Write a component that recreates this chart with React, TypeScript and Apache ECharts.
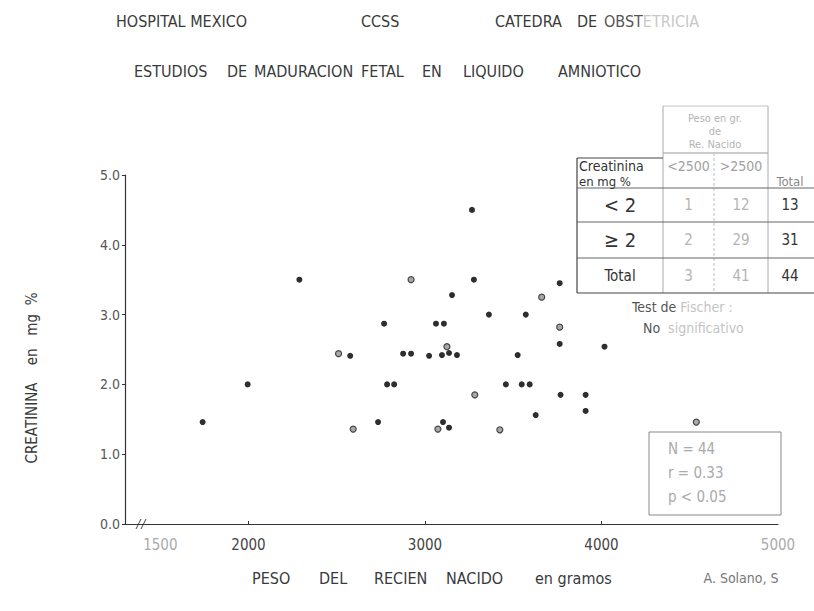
import React, { useEffect, useRef } from 'react';
import * as echarts from 'echarts';

// ---- data ----
const xTickValues = [2000, 3000, 4000];
const xLabelValues = [1500, 2000, 3000, 4000, 5000];
const fadedXLabels = [1500, 5000];
const yTickValues = [0, 1, 2, 3, 4, 5];

// [peso del recien nacido (g), creatinina (mg %)]
const solidPoints = [
  [1740, 1.46], [1995, 2.0], [2288, 3.5], [2576, 2.41], [2734, 1.46],
  [2768, 2.87], [2785, 2.0], [2825, 2.0], [2876, 2.44], [2921, 2.44],
  [3023, 2.41], [3096, 2.42], [3136, 2.45], [3181, 2.42], [3062, 2.87],
  [3107, 2.87], [3153, 3.28], [3266, 4.5], [3277, 3.5], [3362, 3.0],
  [3571, 3.0], [3763, 3.45], [3763, 2.58], [3525, 2.42], [4017, 2.54],
  [3458, 2.0], [3548, 2.0], [3593, 2.0], [3768, 1.85], [3910, 1.85],
  [3910, 1.62], [3627, 1.56], [3102, 1.46], [3136, 1.38],
];
const openPoints = [
  [2510, 2.44], [2593, 1.36], [2921, 3.5], [3124, 2.54], [3661, 3.25],
  [3763, 2.82], [3282, 1.85], [3073, 1.36], [3424, 1.35], [4537, 1.46],
];

const titleLine1 = ['HOSPITAL MEXICO', 'CCSS', 'CATEDRA', 'DE'];
const titleLine2 = ['ESTUDIOS', 'DE', 'MADURACION', 'FETAL', 'EN', 'LIQUIDO', 'AMNIOTICO'];
const xTitleWords = ['PESO', 'DEL', 'RECIEN', 'NACIDO', 'en gramos'];

const tableHeaderTop = ['Peso en gr.', 'de', 'Re. Nacido'];
const tableColumns = ['<2500', '>2500', 'Total'];
const tableRowLabels = ['< 2', '≥ 2', 'Total'];
const tableValues = [
  [1, 12, 13],
  [2, 29, 31],
  [3, 41, 44],
];
const statsLines = ['N = 44', 'r = 0.33', 'p < 0.05'];

const FONT = '"DejaVu Sans Condensed", "Liberation Sans Narrow", "DejaVu Sans", sans-serif';
const DARK = '#333';
const FAINT = '#b4b4b4';

function txt(text: string, x: number, y: number, opts: any = {}) {
  return {
    type: 'text',
    x,
    y,
    silent: true,
    rotation: opts.rotation || 0,
    style: {
      text,
      fill: opts.fill || DARK,
      fontSize: opts.size || 12,
      fontFamily: FONT,
      textAlign: opts.align || 'left',
      textVerticalAlign: 'middle',
      rich: opts.rich,
    },
  };
}

function ln(x1: number, y1: number, x2: number, y2: number, stroke = '#555', width = 1, dash?: number[]) {
  return {
    type: 'line',
    silent: true,
    shape: { x1, y1, x2, y2 },
    style: { stroke, lineWidth: width, lineDash: dash },
  };
}

export default function App() {
  const ref = useRef<HTMLDivElement>(null);

  useEffect(() => {
    document.body.style.margin = '0';
    const chart = echarts.init(ref.current!, null, { renderer: 'svg' });

    const line1X = [116, 361, 495, 577];
    const line2X = [134, 227, 254, 361, 422, 463, 558];
    const xTitleX = [252, 319, 374, 446, 535];

    const graphics: any[] = [];
    titleLine1.forEach((w, i) => graphics.push(txt(w, line1X[i], 21, { size: 16, fill: '#3a3a3a' })));
    graphics.push(txt('{a|OBST}{b|ETRICIA}', 604, 21, {
      size: 16,
      rich: {
        a: { fill: '#555', fontSize: 16, fontFamily: FONT },
        b: { fill: '#c8c8c8', fontSize: 16, fontFamily: FONT },
      },
    }));
    titleLine2.forEach((w, i) => graphics.push(txt(w, line2X[i], 71, { size: 16, fill: '#3a3a3a' })));
    xTitleWords.forEach((w, i) => graphics.push(txt(w, xTitleX[i], 578, { size: 16, fill: '#3a3a3a' })));
    graphics.push(txt('A. Solano, S', 741, 578, { size: 14, fill: '#777', align: 'center' }));
    graphics.push(txt('CREATININA    en   mg  %', 32, 378, { size: 15, rotation: Math.PI / 2, align: 'center', fill: '#3a3a3a' }));

    // axis break marks
    graphics.push(ln(136, 529, 141, 519, '#444', 1));
    graphics.push(ln(141, 529, 146, 519, '#444', 1));

    // ---- table ----
    const colX = [577, 663, 714, 768, 814];
    const rowY = [158, 188, 222, 258, 293];
    graphics.push(ln(663, 106, 768, 106, '#c4c4c4', 1));
    graphics.push(ln(663, 153, 768, 153, '#999', 1));
    graphics.push(ln(663, 106, 663, 293, '#aaa', 1));
    graphics.push(ln(768, 106, 768, 293, '#aaa', 1));
    graphics.push(ln(714, 153, 714, 293, '#bbb', 1, [3, 2]));
    graphics.push(ln(577, 158, 663, 158, '#444', 1));
    graphics.push(ln(577, 158, 577, 293, '#444', 1.2));
    for (let r = 1; r < rowY.length; r++) {
      graphics.push(ln(577, rowY[r], 814, rowY[r], r === rowY.length - 1 ? '#444' : '#666', 1.2));
    }
    tableHeaderTop.forEach((t, i) => graphics.push(txt(t, 715, 118 + i * 13, { size: 11, fill: FAINT, align: 'center' })));
    graphics.push(txt('Creatinina', 579, 166, { size: 14 }));
    graphics.push(txt('en mg %', 579, 181, { size: 13 }));
    tableColumns.forEach((c, i) => {
      const cx = (colX[i + 1] + colX[i + 2]) / 2;
      graphics.push(txt(c, i === 2 ? 790 : cx, i === 2 ? 181 : 166, { size: i === 2 ? 13 : 14, fill: i === 2 ? '#888' : '#a0a0a0', align: 'center' }));
    });
    tableRowLabels.forEach((lab, r) => {
      const cy = (rowY[r + 1] + rowY[r + 2]) / 2;
      graphics.push(txt(lab, 620, cy, { size: r === 2 ? 15 : 20, align: 'center' }));
      tableValues[r].forEach((v, c) => {
        const cx = c === 2 ? 790 : (colX[c + 1] + colX[c + 2]) / 2;
        graphics.push(txt(String(v), cx, cy, { size: 15, fill: c === 2 ? DARK : FAINT, align: 'center' }));
      });
    });
    graphics.push(txt('{a|Test de }{b|Fischer :}', 632, 307, {
      rich: {
        a: { fill: '#555', fontSize: 14, fontFamily: FONT },
        b: { fill: '#c4c4c4', fontSize: 14, fontFamily: FONT },
      },
    }));
    graphics.push(txt('{a|No  }{b|significativo}', 643, 328, {
      rich: {
        a: { fill: '#555', fontSize: 14, fontFamily: FONT },
        b: { fill: '#c4c4c4', fontSize: 14, fontFamily: FONT },
      },
    }));

    // ---- stats box ----
    graphics.push({
      type: 'rect', silent: true,
      shape: { x: 649, y: 432, width: 132, height: 83 },
      style: { fill: 'none', stroke: '#888', lineWidth: 1 },
    });
    statsLines.forEach((s, i) => graphics.push(txt(s, 668, 449 + i * 24, { size: 15, fill: '#aaa' })));

    chart.setOption({
      animation: false,
      backgroundColor: '#fff',
      grid: { left: 125, top: 175, right: 36, bottom: 87 },
      xAxis: {
        type: 'value',
        min: 1300,
        max: 5000,
        splitLine: { show: false },
        axisLine: { show: true, lineStyle: { color: '#333', width: 1.2 } },
        axisTick: { show: true, customValues: xTickValues, inside: true, length: 3, lineStyle: { color: '#333' } },
        axisLabel: {
          customValues: xLabelValues,
          margin: 13,
          fontSize: 15,
          fontFamily: FONT,
          formatter: (v: number) => String(v),
          color: (v: any) => (fadedXLabels.includes(Number(v)) ? '#aaa' : '#444'),
        },
      },
      yAxis: {
        type: 'value',
        min: 0,
        max: 5,
        interval: 1,
        splitLine: { show: false },
        axisLine: { show: true, lineStyle: { color: '#333', width: 1.2 } },
        axisTick: { show: true, length: 3, lineStyle: { color: '#333' } },
        axisLabel: {
          margin: 5,
          fontSize: 14,
          fontFamily: FONT,
          color: '#555',
          formatter: (v: number) => (yTickValues.includes(v) ? v.toFixed(1) : ''),
        },
      },
      series: [
        {
          type: 'scatter',
          data: solidPoints,
          symbolSize: 6,
          itemStyle: { color: '#2e2e2e', opacity: 1 },
          silent: true,
        },
        {
          type: 'scatter',
          data: openPoints,
          symbolSize: 6,
          itemStyle: { color: '#a8a8a8', borderColor: '#444', borderWidth: 1.2, opacity: 1 },
          silent: true,
        },
      ],
      graphic: graphics,
    });

    return () => chart.dispose();
  }, []);

  return <div ref={ref} style={{ width: 814, height: 611 }} />;
}
